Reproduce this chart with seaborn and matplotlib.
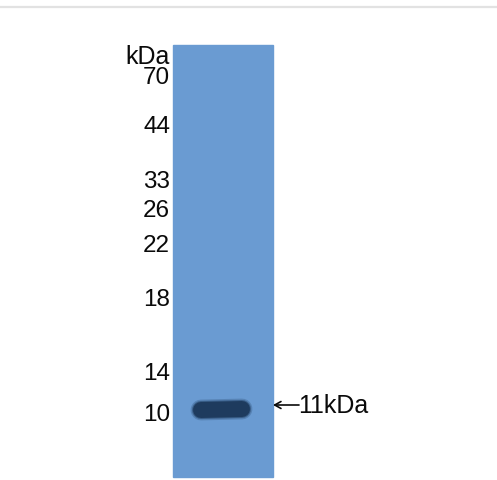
import numpy as np
import matplotlib
matplotlib.use("Agg")
import matplotlib.pyplot as plt
from matplotlib.patches import Rectangle
import seaborn as sns

sns.set_style("white")
plt.rcParams['font.family'] = ['Liberation Sans', 'DejaVu Sans']

# Marker ladder (kDa) and where each one ran on the gel (pixels from top)
marker_labels = ["70", "44", "33", "26", "22", "18", "14", "10"]
marker_y = [78, 127, 182, 211, 246, 300, 374, 415]
# Detected band
band_label = "11kDa"
band_y = 411
band_x = [201, 242]

lane_color = "#6a9bd2"
band_color = "#1e3b5e"
text_color = "#0a0a0a"

fig = plt.figure(figsize=(4.97, 4.81), dpi=100)
ax = fig.add_axes([0, 0, 1, 1])
ax.set_xlim(0, 497)
ax.set_ylim(481, 0)
ax.axis("off")

# thin grey rule at the top
ax.plot([0, 497], [8, 8], color="#e2e2e2", lw=1.6)

# lane
ax.add_patch(Rectangle((173, 46), 100, 432, color=lane_color, zorder=1))

# band, soft edges with a few layers
for lw, a in [(15, 0.25), (13, 0.5), (11.5, 1.0)]:
    sns.lineplot(x=band_x, y=[band_y, band_y - 1], ax=ax, color=band_color,
                 lw=lw, alpha=a, solid_capstyle="round", zorder=3)

# ladder labels
ax.text(170, 57, "kDa", ha="right", va="center", fontsize=18, color=text_color)
for lab, y in zip(marker_labels, marker_y):
    ax.text(170, y, lab, ha="right", va="center", fontsize=17.5, color=text_color)

# arrow + band size
ax.annotate("", xy=(273, band_y - 5), xytext=(299, band_y - 5),
            arrowprops=dict(arrowstyle="->,head_length=0.45,head_width=0.25",
                            color=text_color, lw=1.2, shrinkA=0, shrinkB=0))
ax.text(298, band_y - 5, band_label, ha="left", va="center", fontsize=18, color=text_color)

fig.savefig("out.png", dpi=100)
